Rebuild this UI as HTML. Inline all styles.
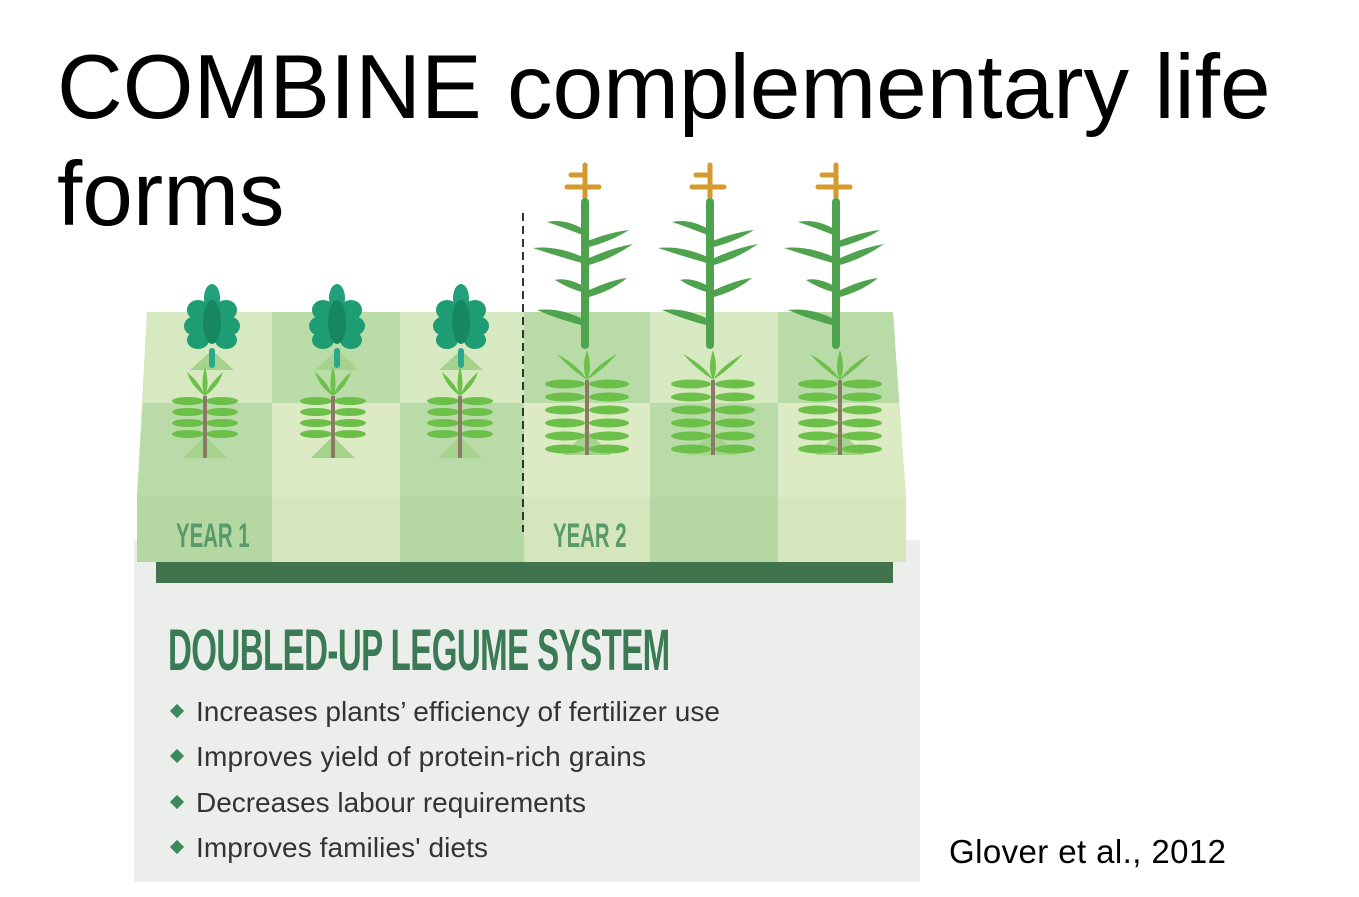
<!DOCTYPE html>
<html><head><meta charset="utf-8"><style>
body{margin:0;width:1359px;height:897px;background:#fff;overflow:hidden;position:relative;font-family:"Liberation Sans",sans-serif}
.t{position:absolute;left:57px;font-size:91px;color:#000;line-height:1;white-space:nowrap}
</style></head><body>
<div class="t" style="top:42px">COMBINE complementary life</div>
<div class="t" style="top:149px">forms</div>
<svg width="1359" height="897" style="position:absolute;left:0;top:0">
<defs>
<g id="leg">
 <polygon points="-22,70 22,70 0,50" fill="#a6d38b"/>
 <g fill="#1e9c74">
 <ellipse cx="0" cy="-2" rx="8" ry="14" fill="#22a07a"/>
 <ellipse cx="-14" cy="10" rx="11" ry="10"/><ellipse cx="14" cy="10" rx="11" ry="10"/>
 <ellipse cx="-16" cy="26" rx="12" ry="10"/><ellipse cx="16" cy="26" rx="12" ry="10"/>
 <ellipse cx="-14" cy="40" rx="11" ry="9"/><ellipse cx="14" cy="40" rx="11" ry="9"/>
 <ellipse cx="0" cy="22" rx="9" ry="22" fill="#17875f"/>
 </g>
 <rect x="-3" y="48" width="6" height="20" rx="3" fill="#2aa88c"/>
</g>
<g id="fern">
 <polygon points="-22,62 22,62 0,40" fill="#a6d38b"/>
 <g fill="#6cc04a">
 <path d="M0,-30 Q-5,-10 0,0 Q5,-10 0,-30Z"/>
 <path d="M0,0 Q-14,-10 -18,-24 Q-4,-12 0,0Z"/><path d="M0,0 Q14,-10 18,-24 Q4,-12 0,0Z"/>
 <ellipse cx="-17" cy="5" rx="16" ry="4"/><ellipse cx="17" cy="5" rx="16" ry="4"/>
 <ellipse cx="-17" cy="16" rx="16" ry="4"/><ellipse cx="17" cy="16" rx="16" ry="4"/>
 <ellipse cx="-17" cy="27" rx="16" ry="4"/><ellipse cx="17" cy="27" rx="16" ry="4"/>
 <ellipse cx="-17" cy="38" rx="16" ry="4"/><ellipse cx="17" cy="38" rx="16" ry="4"/>
 </g>
 <line x1="0" y1="0" x2="0" y2="62" stroke="#8a7a66" stroke-width="4"/>
</g>
<g id="bigfern">
 <polygon points="-24,75 24,75 0,50" fill="#a6d38b"/>
 <g fill="#6cc04a">
 <path d="M0,-30 Q-6,-12 0,0 Q6,-12 0,-30Z"/>
 <path d="M0,0 Q-18,-12 -30,-26 Q-8,-14 0,0Z"/><path d="M0,0 Q18,-12 30,-26 Q8,-14 0,0Z"/>
 <ellipse cx="-22" cy="4" rx="20" ry="4.5"/><ellipse cx="22" cy="4" rx="20" ry="4.5"/>
 <ellipse cx="-22" cy="17" rx="20" ry="4.5"/><ellipse cx="22" cy="17" rx="20" ry="4.5"/>
 <ellipse cx="-22" cy="30" rx="20" ry="4.5"/><ellipse cx="22" cy="30" rx="20" ry="4.5"/>
 <ellipse cx="-22" cy="43" rx="20" ry="4.5"/><ellipse cx="22" cy="43" rx="20" ry="4.5"/>
 <ellipse cx="-22" cy="56" rx="20" ry="4.5"/><ellipse cx="22" cy="56" rx="20" ry="4.5"/>
 <ellipse cx="-22" cy="69" rx="20" ry="4.5"/><ellipse cx="22" cy="69" rx="20" ry="4.5"/>
 </g>
 <line x1="0" y1="0" x2="0" y2="75" stroke="#8a7a66" stroke-width="4"/>
</g>
<g id="corn">
 <g stroke="#d49a2e" stroke-width="5" stroke-linecap="round" fill="none">
 <line x1="0" y1="-180" x2="0" y2="-148"/><line x1="-14" y1="-170" x2="0" y2="-170"/><line x1="-18" y1="-158" x2="14" y2="-158"/>
 </g>
 <line x1="0" y1="-143" x2="0" y2="0" stroke="#4fa34f" stroke-width="8" stroke-linecap="round"/>
 <g fill="#4fa34f">
 <path d="M0,-115 Q-20,-127 -38,-123 Q-20,-117 0,-109Z"/>
 <path d="M0,-103 Q25,-113 44,-115 Q25,-103 0,-97Z"/>
 <path d="M0,-87 Q-28,-100 -52,-97 Q-28,-89 0,-81Z"/>
 <path d="M0,-85 Q25,-97 48,-101 Q25,-85 0,-79Z"/>
 <path d="M0,-58 Q-18,-68 -30,-65 Q-18,-57 0,-52Z"/>
 <path d="M0,-53 Q25,-65 42,-67 Q25,-53 0,-47Z"/>
 <path d="M0,-25 Q-25,-38 -48,-35 Q-25,-25 0,-19Z"/>
 </g>
</g>
</defs>
<rect x="134" y="540" width="786" height="342" fill="#eceeec"/>
<polygon points="147,312 893,312 906,497 906,562 137,562 137,497" fill="#cde3b5"/>
<g>
<polygon points="147,312 272,312 272,403 143,403" fill="#d6e9c0"/>
<rect x="272" y="312" width="128" height="91" fill="#badca9"/>
<rect x="400" y="312" width="124" height="91" fill="#d6e9c0"/>
<rect x="524" y="312" width="126" height="91" fill="#b8dba8"/>
<rect x="650" y="312" width="128" height="91" fill="#d6e9c0"/>
<polygon points="778,312 893,312 899,403 778,403" fill="#b8dba8"/>
<polygon points="143,403 272,403 272,497 137,497" fill="#b8dba8"/>
<rect x="272" y="403" width="128" height="94" fill="#dcebc4"/>
<rect x="400" y="403" width="124" height="94" fill="#b8dba8"/>
<rect x="524" y="403" width="126" height="94" fill="#dcebc4"/>
<rect x="650" y="403" width="128" height="94" fill="#b8dba8"/>
<polygon points="778,403 899,403 906,497 778,497" fill="#dcebc4"/>
<rect x="137" y="497" width="135" height="65" fill="#b5d7a2"/>
<rect x="272" y="497" width="128" height="65" fill="#d5e6bc"/>
<rect x="400" y="497" width="124" height="65" fill="#b5d7a2"/>
<rect x="524" y="497" width="126" height="65" fill="#d5e6bc"/>
<rect x="650" y="497" width="128" height="65" fill="#b5d7a2"/>
<rect x="778" y="497" width="128" height="65" fill="#d5e6bc"/>
</g>
<rect x="156" y="562" width="737" height="21" fill="#41744d"/>
<line x1="523" y1="213" x2="523" y2="532" stroke="#333" stroke-width="2" stroke-dasharray="8,5"/>
<use href="#leg" x="212" y="300"/><use href="#leg" x="337" y="300"/><use href="#leg" x="461" y="300"/>
<use href="#fern" x="205" y="396"/><use href="#fern" x="333" y="396"/><use href="#fern" x="460" y="396"/>
<use href="#bigfern" x="587" y="380"/><use href="#bigfern" x="713" y="380"/><use href="#bigfern" x="840" y="380"/>
<use href="#corn" x="585" y="345"/><use href="#corn" x="710" y="345"/><use href="#corn" x="836" y="345"/>
<g font-family="Liberation Sans" font-weight="bold" fill="#5a9a6a" font-size="34">
<text x="176" y="547" transform="translate(176,0) scale(0.6,1) translate(-176,0)">YEAR 1</text>
<text x="553" y="547" transform="translate(553,0) scale(0.6,1) translate(-553,0)">YEAR 2</text>
</g>
<text x="168" y="670" font-family="Liberation Sans" font-weight="bold" font-size="58" fill="#3a7a55" transform="translate(168,0) scale(0.57,1) translate(-168,0)" letter-spacing="-1">DOUBLED-UP LEGUME SYSTEM</text>
<g font-family="Liberation Sans" font-size="28" fill="#333">
<g fill="#3a8a5a"><rect x="172" y="706" width="10" height="10" transform="rotate(45 177 711)"/><rect x="172" y="751" width="10" height="10" transform="rotate(45 177 756)"/><rect x="172" y="797" width="10" height="10" transform="rotate(45 177 802)"/><rect x="172" y="842" width="10" height="10" transform="rotate(45 177 847)"/></g>
<text x="196" y="721" textLength="524">Increases plants’ efficiency of fertilizer use</text>
<text x="196" y="766" textLength="450">Improves yield of protein-rich grains</text>
<text x="196" y="812" textLength="390">Decreases labour requirements</text>
<text x="196" y="857" textLength="292">Improves families' diets</text>
</g>
<text x="949" y="863" font-family="Liberation Sans" font-size="33" fill="#000" textLength="277">Glover et al., 2012</text>
</svg>
</body></html>
